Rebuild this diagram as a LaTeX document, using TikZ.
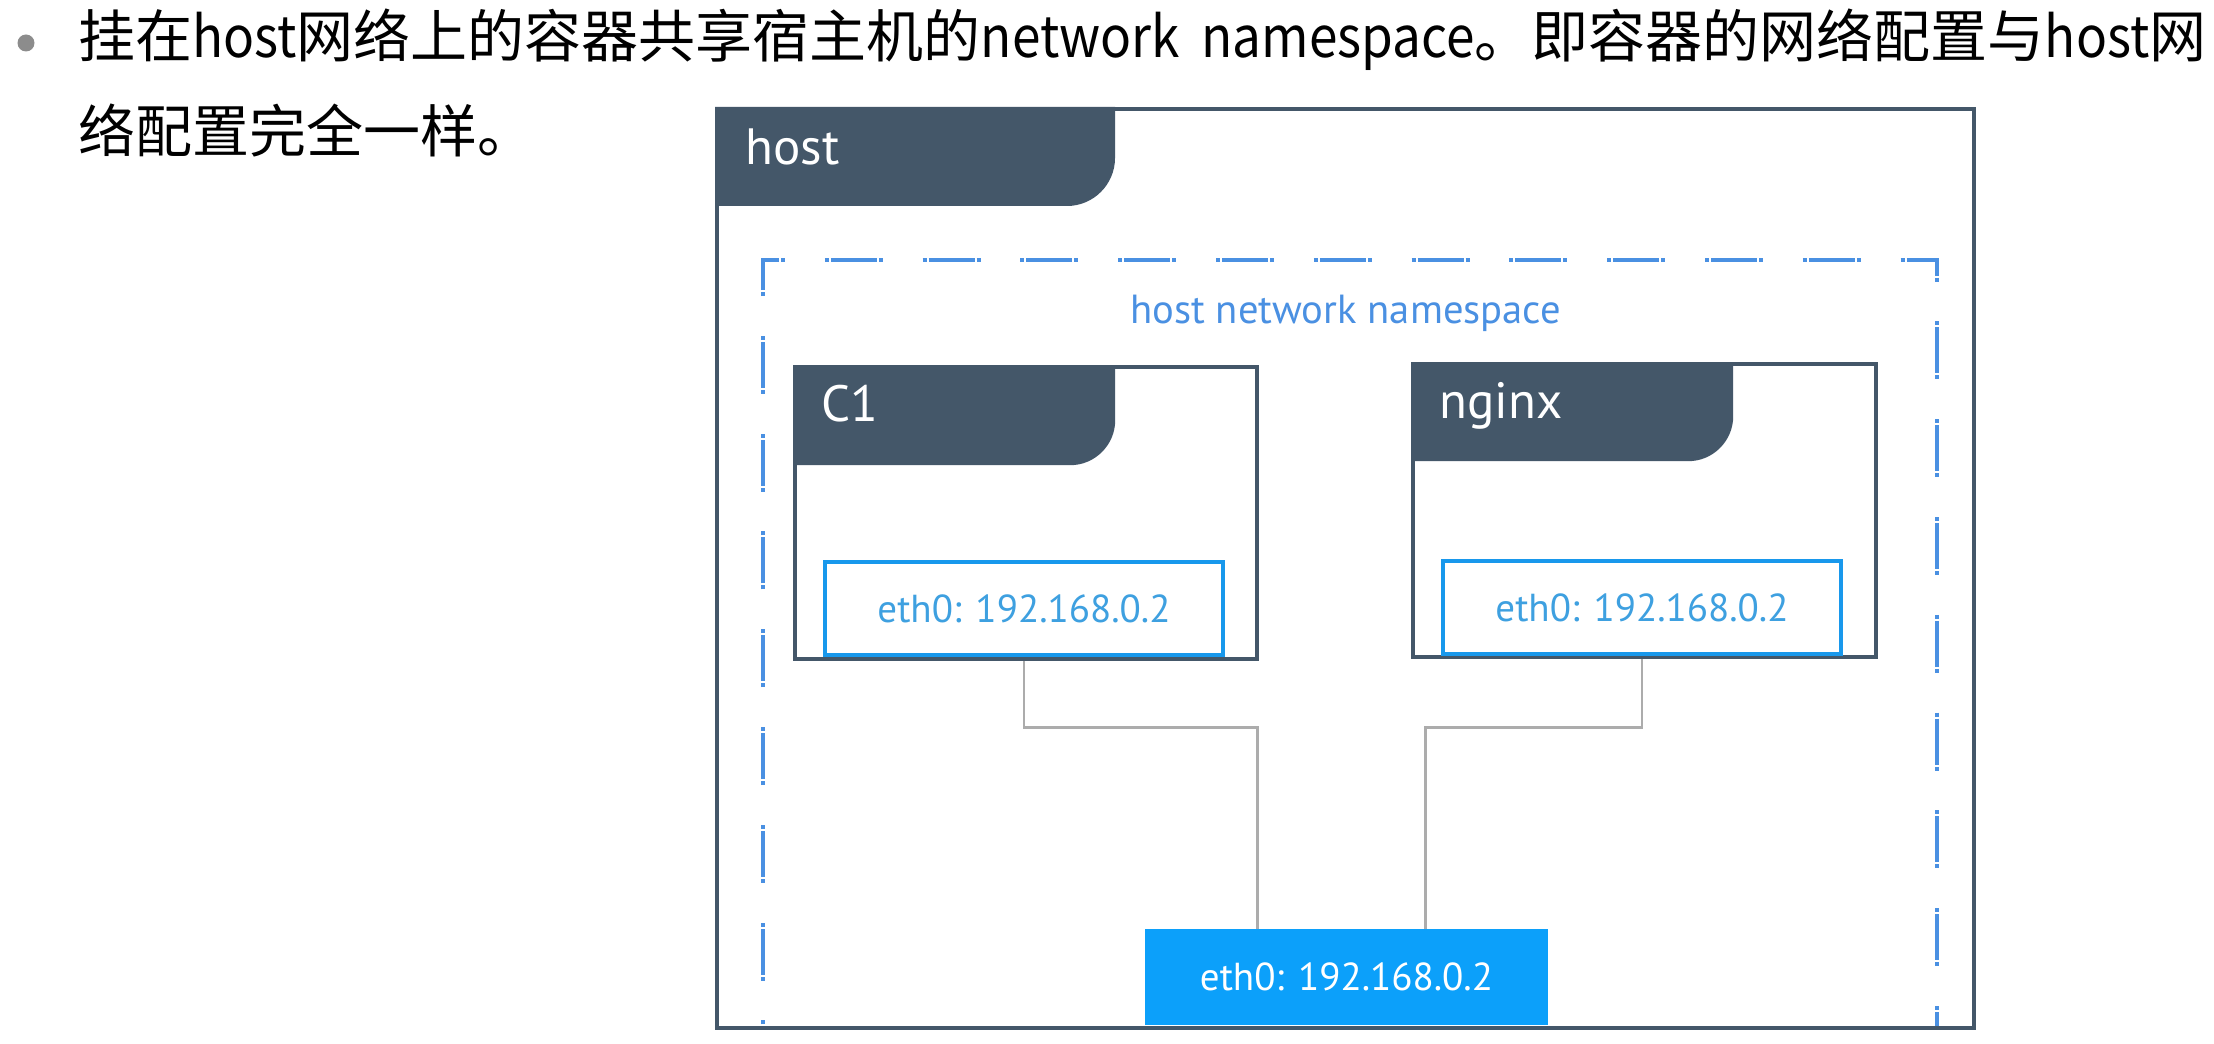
\documentclass[tikz,border=0pt]{standalone}
\usepackage{fontspec}
\setmainfont{PT Sans}
\newfontfamily\cjkfont{Noto Sans CJK SC}
\newfontfamily\latfont{Noto Sans CJK SC}[FakeStretch=0.90]
\usetikzlibrary{positioning,calc}
\definecolor{slate}{RGB}{68,87,105}
\definecolor{nsblue}{RGB}{74,144,226}
\definecolor{ethblue}{RGB}{24,152,236}
\definecolor{ethtext}{RGB}{62,160,224}
\definecolor{hostblue}{RGB}{12,160,250}
\definecolor{wiregray}{RGB}{172,172,172}
\definecolor{dotgray}{RGB}{140,140,140}
\tikzstyle{ctrbox}=[draw=slate, line width=1.8pt, inner sep=0pt]
\tikzstyle{tabfill}=[fill=slate]
\tikzstyle{tablabel}=[text=white, anchor=base west, inner sep=0pt, font=\fontsize{25.5pt}{30pt}\selectfont]
\tikzstyle{ethbox}=[draw=ethblue, line width=2pt, text=ethtext, inner sep=0pt, font=\fontsize{19.5pt}{23pt}\selectfont]
\tikzstyle{hosteth}=[fill=hostblue, text=white, inner sep=0pt, font=\fontsize{19.5pt}{23pt}\selectfont]
\tikzstyle{wire}=[draw=wiregray, line width=1.2pt]
\tikzstyle{nsline}=[draw=nsblue, line width=2pt, dash pattern=on 2pt off 1pt on 23pt off 1pt on 2pt off 19.9pt, dash phase=26.2pt]
\tikzstyle{toptext}=[anchor=base west, inner sep=0pt, font=\cjkfont\fontsize{28.5pt}{34pt}\selectfont]
% tab in the top left corner of a box: node, width, height, radius
\newcommand{\drawtab}[4]{%
  \fill[tabfill] (#1.north west) -- ($(#1.north west)+(#2,0)$) -- ($(#1.north west)+(#2,#3-#4)$)
    .. controls ($(#1.north west)+(#2,#3-0.45*#4)$) and ($(#1.north west)+(#2-0.45*#4,#3)$) .. ($(#1.north west)+(#2-#4,#3)$)
    -- ($(#1.north west)+(0,#3)$) -- cycle;}
\newcommand{\lat}[1]{{\latfont #1}}

\begin{document}
\begin{tikzpicture}[x=0.5pt,y=-0.5pt]
\fill[white] (0,0) rectangle (2214,1043);
\useasboundingbox (0,0) rectangle (2214,1043);
% caption
\fill[dotgray] (26,43) circle (4.25pt);
\node[toptext] (line1) at (78,58) {挂在\lat{host}网络上的容器共享宿主机的\lat{network\hspace{11pt}namespace}。即容器的网络配置与\lat{host}网};
\node[toptext] (line2) at (78,153) {络配置完全一样。};
% host
\node[ctrbox, line width=2pt, minimum width=628.5pt, minimum height=459.5pt] (host) at (1345.5,568.5) {};
\drawtab{host}{400}{99}{48}
\node[tablabel] (hostname) at ($(host.north west)+(30,58)$) {host};
\draw[nsline] (763,1026) -- (763,260) -- (1937,260) -- (1937,1026);
\node[text=nsblue, anchor=base, inner sep=0pt, font=\fontsize{20.3pt}{24pt}\selectfont] (ns) at ($(host.north)+(0,216)$) {host network namespace};
% containers
\node[ctrbox, minimum width=231pt, minimum height=146pt] (c1) at (1026,513) {};
\drawtab{c1}{322}{100}{45}
\node[tablabel] (c1name) at ($(c1.north west)+(28,56)$) {C1};
\node[ctrbox, minimum width=231.5pt, minimum height=146.5pt] (ng) at (1644.5,510.5) {};
\drawtab{ng}{322}{99}{45}
\node[tablabel] (ngname) at ($(ng.north west)+(28,56)$) {nginx};
\node[ethbox, minimum width=199pt, minimum height=46.5pt] (c1eth) at (1024,608.5) {eth0: 192.168.0.2};
\node[ethbox, minimum width=199pt, minimum height=46.5pt] (ngeth) at (1642,607.5) {eth0: 192.168.0.2};
\node[hosteth, minimum width=201.5pt, minimum height=48pt] (heth) at (1346.5,977) {eth0: 192.168.0.2};
% links
\draw[wire] (c1eth.south |- c1.south) |- ($(heth.north)+(-89,-201)$) -- ($(heth.north)+(-89,0)$);
\draw[wire] (ngeth.south |- ng.south) |- ($(heth.north)+(79,-201)$) -- ($(heth.north)+(79,0)$);
\end{tikzpicture}
\end{document}
